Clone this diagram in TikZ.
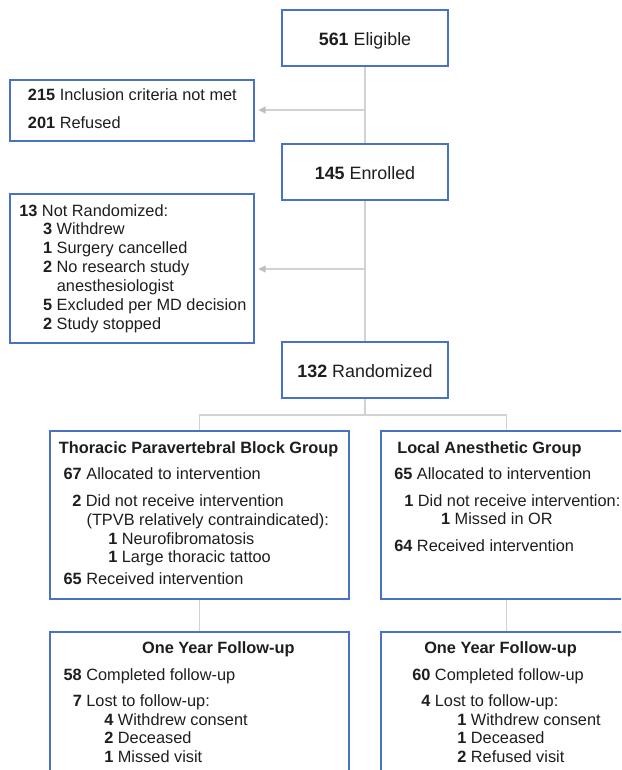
\documentclass[tikz,border=0pt]{standalone}
\usepackage{fontspec}
\setmainfont{Liberation Sans}
\usetikzlibrary{arrows.meta}
\definecolor{boxblue}{RGB}{74,114,196}
\definecolor{linegray}{RGB}{210,210,210}
\definecolor{tipgray}{RGB}{190,190,190}
\definecolor{txtcol}{RGB}{30,30,30}
\begin{document}
\begin{tikzpicture}[x=0.75pt,y=-0.75pt,
  box/.style={draw=boxblue,line width=1.3pt,rectangle,inner sep=0pt},
  conn/.style={draw=linegray,line width=1.1pt},
  arr/.style={conn,shorten >=2.5pt,-{Triangle[length=5.5pt,width=5pt,color=tipgray]}},
  txt/.style={inner sep=0pt,anchor=base west,text=txtcol,font=\fontsize{12.25pt}{14pt}\selectfont},
  big/.style={inner sep=0pt,anchor=base,text=txtcol,font=\fontsize{13.4pt}{16pt}\selectfont}]
\useasboundingbox (0,0) rectangle (621,770);
\fill[white] (0,0) rectangle (621,770);
\clip (0,0) rectangle (621,770);

% boxes
\node[box,minimum width=124.5pt,minimum height=42pt] (elig) at (365,38) {};
\node[box,minimum width=183pt,minimum height=45.75pt] (excl) at (132,110.5) {};
\node[box,minimum width=124.5pt,minimum height=42pt] (enr) at (365,172) {};
\node[box,minimum width=183pt,minimum height=111.75pt] (notr) at (132,268.5) {};
\node[box,minimum width=124.5pt,minimum height=42pt] (rand) at (365,370) {};
\node[box,minimum width=224.25pt,minimum height=126pt] (tp) at (199.5,515) {};
\node[box,minimum width=188.25pt,minimum height=126pt] (la) at (506.5,515) {};
\node[box,minimum width=224.25pt,minimum height=126pt] (tpfu) at (199.5,716) {};
\node[box,minimum width=188.25pt,minimum height=126pt] (lafu) at (506.5,716) {};

% connectors
\coordinate (j1) at (365,110);
\coordinate (j2) at (365,269);
\coordinate (sp) at (365,415);
\draw[conn] (elig.south) -- (enr.north);
\draw[arr] (j1) -- (j1 -| excl.east);
\draw[conn] (enr.south) -- (rand.north);
\draw[arr] (j2) -- (j2 -| notr.east);
\draw[conn] (rand.south) -- (sp);
\draw[conn] (tp.north) |- (sp) -| (la.north);
\draw[conn] (tp.south) -- (tpfu.north);
\draw[conn] (la.south) -- (lafu.north);

% main labels
\node[big] (eligT) at (365,45.5) {\textbf{561} Eligible};
\node[big] (enrT) at (365,179) {\textbf{145} Enrolled};
\node[big] (randT) at (365,377) {\textbf{132} Randomized};

% exclusions
\node[txt] (e1a) at (27.7,101) {\textbf{215} Inclusion criteria not met};
\node[txt] (e1b) at (27.7,128) {\textbf{201} Refused};

\node[txt] (n0) at (19,216) {\textbf{13} Not Randomized:};
\node[txt] (n1) at (42.8,234.5) {\textbf{3} Withdrew};
\node[txt] (n2) at (42.8,253) {\textbf{1} Surgery cancelled};
\node[txt] (n3) at (42.8,272) {\textbf{2} No research study};
\node[txt] (n3b) at (56.6,291) {anesthesiologist};
\node[txt] (n4) at (42.8,310) {\textbf{5} Excluded per MD decision};
\node[txt] (n5) at (42.8,329) {\textbf{2} Study stopped};

% TPVB group
\node[txt] (t0) at (58.6,453) {\textbf{Thoracic Paravertebral Block Group}};
\node[txt] (t1) at (63.4,479) {\textbf{67} Allocated to intervention};
\node[txt] (t2) at (72,506) {\textbf{2} Did not receive intervention};
\node[txt] (t3) at (86.3,525) {(TPVB relatively contraindicated):};
\node[txt] (t4) at (108,544) {\textbf{1} Neurofibromatosis};
\node[txt] (t5) at (108,562.5) {\textbf{1} Large thoracic tattoo};
\node[txt] (t6) at (63.4,584) {\textbf{65} Received intervention};

% LA group
\node[txt] (l0) at (397,453) {\textbf{Local Anesthetic Group}};
\node[txt] (l1) at (394,479) {\textbf{65} Allocated to intervention};
\node[txt] (l2) at (404,506) {\textbf{1} Did not receive intervention:};
\node[txt] (l3) at (440.8,524.5) {\textbf{1} Missed in OR};
\node[txt] (l4) at (394,551.5) {\textbf{64} Received intervention};

% TPVB follow-up
\node[txt] (f0) at (141.8,653.3) {\textbf{One Year Follow-up}};
\node[txt] (f1) at (63.4,680) {\textbf{58} Completed follow-up};
\node[txt] (f2) at (72.5,706) {\textbf{7} Lost to follow-up:};
\node[txt] (f3) at (104,725) {\textbf{4} Withdrew consent};
\node[txt] (f4) at (104,743.5) {\textbf{2} Deceased};
\node[txt] (f5) at (104,762) {\textbf{1} Missed visit};

% LA follow-up
\node[txt] (g0) at (424,653.3) {\textbf{One Year Follow-up}};
\node[txt] (g1) at (412,680) {\textbf{60} Completed follow-up};
\node[txt] (g2) at (421,706) {\textbf{4} Lost to follow-up:};
\node[txt] (g3) at (457,725) {\textbf{1} Withdrew consent};
\node[txt] (g4) at (457,743.5) {\textbf{1} Deceased};
\node[txt] (g5) at (457,762) {\textbf{2} Refused visit};
\end{tikzpicture}
\end{document}
